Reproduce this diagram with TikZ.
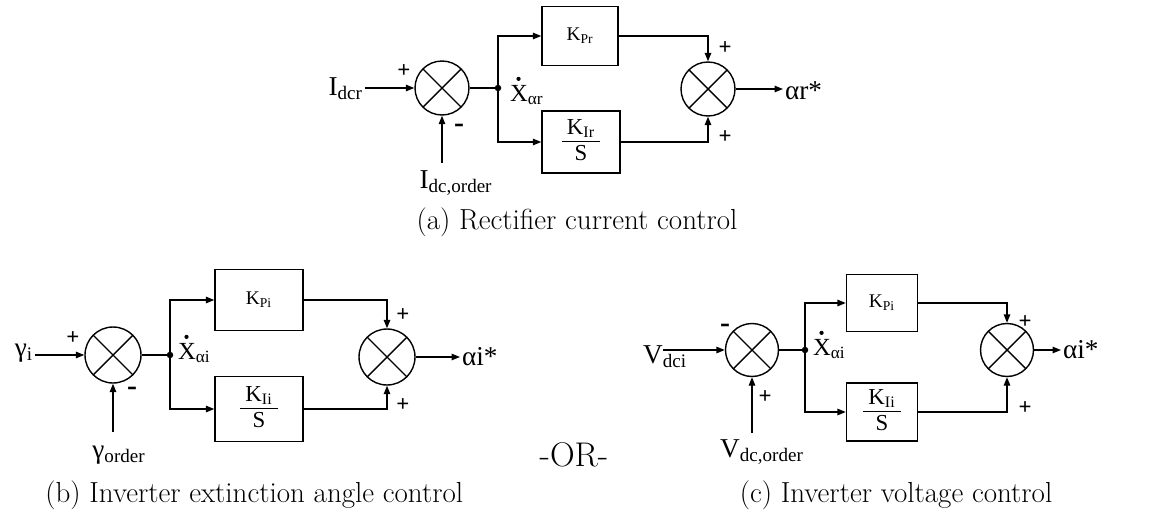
\documentclass[tikz,border=0pt]{standalone}
\usepackage{fontspec}
\newfontfamily\tms{Liberation Serif}
\newfontfamily\grk{Liberation Serif}[Script=Greek]
\usetikzlibrary{arrows.meta}
\setlength\arrayrulewidth{0.7pt}
\newcommand\fr[1]{\begin{tabular}{@{\hspace{3pt}}c@{\hspace{3pt}}}K\textsubscript{#1}\\[-1pt]\hline S\end{tabular}}
\tikzset{
 sumj/.style={circle,draw,line width=0.8pt,inner sep=0pt,path picture={\draw[line width=0.8pt] (path picture bounding box.north west)--(path picture bounding box.south east) (path picture bounding box.north east)--(path picture bounding box.south west);}},
 blk/.style={draw,line width=0.8pt,inner sep=1pt,font=\tms\fontsize{11}{13}\selectfont},
 frblk/.style={blk,font=\tms\fontsize{13}{15}\selectfont},
 lbl/.style={inner sep=1pt,font=\tms\fontsize{15.5}{17}\selectfont},
 xlbl/.style={inner sep=1pt,font=\tms\fontsize{14}{16}\selectfont},
 sgn/.style={inner sep=0pt,font=\tms\bfseries\fontsize{13}{15}\selectfont},
 msgn/.style={inner sep=0pt,font=\tms\bfseries\fontsize{17}{19}\selectfont},
 captxt/.style={inner sep=0pt,font=\fontsize{16.5}{20}\selectfont},
 ortxt/.style={inner sep=0pt,font=\fontsize{19.5}{23}\selectfont},
 con/.style={line width=0.8pt},
 arr/.style={line width=0.8pt,-{Triangle[length=1.7mm,width=1.3mm]}},
 jdot/.style={circle,fill,inner sep=0pt,minimum size=0.13cm},
 xdotmark/.style={xshift=6pt,yshift=12.6pt},
}
\begin{document}
\begin{tikzpicture}[x=0.02cm,y=-0.02cm]
\useasboundingbox (0,0) rectangle (1149,514);
% ---------- (a) ----------
\node[sumj,minimum size=1.08cm] (a1) at (442,88) {};
\node[lbl,anchor=base east] (aIn) at (365,95) {I\textsubscript{dcr}};
\draw[arr] (aIn.east |- a1) -- (a1.west);
\node[sgn] at (404,71) {+};
\node[jdot] (aj) at (498,88) {};
\draw[con] (a1.east) -- (aj.center);
\node[xlbl,anchor=base west] (aX) at (508,101) {X\textsubscript{{\grk α}r}};
\fill ([xdotmark]aX.base west) circle (1.2pt);
\node[blk,minimum width=1.52cm,minimum height=1.18cm] (aP) at (580,36) {K\textsubscript{Pr}};
\node[frblk,minimum width=1.56cm,minimum height=1.24cm] (aI) at (581,142) {\fr{Ir}};
\draw[arr] (aj.center) |- (aP.west);
\draw[arr] (aj.center) |- (aI.west);
\node[sumj,minimum size=1.08cm] (a2) at (708,89) {};
\draw[arr] (aP.east) -| (a2.north);
\draw[arr] (aI.east) -| (a2.south);
\node[sgn] at (725,48) {+};
\node[sgn] at (725,137) {+};
\node[lbl,anchor=west] (aOut) at (783,91) {{\grk α}r*};
\draw[arr] (a2.east) -- (a2.east -| aOut.west);
\coordinate (aFs) at (442,163);
\node[lbl,anchor=base] (aFb) at (456,188) {I\textsubscript{dc,order}};
\draw[arr] (a1.south |- aFs) -- (a1.south);
\node[msgn] at (459,128) {-};
\node[captxt] (aCap) at (577,222) {(a) Rectifier current control};
% ---------- (b) ----------
\node[sumj,minimum size=1.12cm] (b1) at (113,355) {};
\node[lbl] (bIn) at (24,353) {{\grk γ}\textsubscript{i}};
\draw[arr] (bIn.east |- b1) -- (b1.west);
\node[sgn] at (73,338) {+};
\node[jdot] (bj) at (170,355) {};
\draw[con] (b1.east) -- (bj.center);
\node[xlbl,anchor=base west] (bX) at (176,359) {X\textsubscript{{\grk α}i}};
\fill ([xdotmark]bX.base west) circle (1.2pt);
\node[blk,minimum width=1.76cm,minimum height=1.22cm] (bP) at (259,300) {K\textsubscript{Pi}};
\node[frblk,minimum width=1.76cm,minimum height=1.3cm] (bI) at (259,409) {\fr{Ii}};
\draw[arr] (bj.center) |- (bP.west);
\draw[arr] (bj.center) |- (bI.west);
\node[sumj,minimum size=1.12cm] (b2) at (387,357) {};
\draw[arr] (bP.east) -| (b2.north);
\draw[arr] (bI.east) -| (b2.south);
\node[sgn] at (403,315) {+};
\node[sgn] at (403,405) {+};
\node[lbl,anchor=west] (bOut) at (460,357) {{\grk α}i*};
\draw[arr] (b2.east) -- (b2.east -| bOut.west);
\coordinate (bFs) at (113,432);
\node[lbl] (bFb) at (119,455) {{\grk γ}\textsubscript{order}};
\draw[arr] (b1.south |- bFs) -- (b1.south);
\node[msgn] at (132,391) {-};
\node[captxt,anchor=west] (bCap) at (45,495) {(b) Inverter extinction angle control};
\node[ortxt] (orl) at (574,455) {-OR-};
% ---------- (c) ----------
\node[sumj,minimum size=1.06cm] (c1) at (752,350) {};
\node[lbl,anchor=base west] (cIn) at (641,363) {V\textsubscript{dci}};
\coordinate (cS) at (663,350);
\draw[arr] (cS) -- (c1.west);
\node[msgn] at (725,328) {-};
\node[jdot] (cj) at (805,350) {};
\draw[con] (c1.east) -- (cj.center);
\node[xlbl,anchor=base west] (cX) at (811,355) {X\textsubscript{{\grk α}i}};
\fill ([xdotmark]cX.base west) circle (1.2pt);
\node[blk,minimum width=1.42cm,minimum height=1.14cm] (cP) at (882,303) {K\textsubscript{Pi}};
\node[frblk,minimum width=1.42cm,minimum height=1.16cm] (cI) at (882,412) {\fr{Ii}};
\draw[arr] (cj.center) |- (cP.west);
\draw[arr] (cj.center) |- (cI.west);
\node[sumj,minimum size=1.06cm] (c2) at (1007,350) {};
\draw[arr] (cP.east) -| (c2.north);
\draw[arr] (cI.east) -| (c2.south);
\node[sgn] at (1025,322) {+};
\node[sgn] at (1025,408) {+};
\node[lbl,anchor=west] (cOut) at (1061,350) {{\grk α}i*};
\draw[arr] (c2.east) -- (c2.east -| cOut.west);
\coordinate (cFs) at (752,433);
\node[lbl] (cFb) at (762,452) {V\textsubscript{dc,order}};
\draw[arr] (c1.south |- cFs) -- (c1.south);
\node[sgn] at (765,397) {+};
\node[captxt] (cCap) at (896,495) {(c) Inverter voltage control};
\end{tikzpicture}
\end{document}
